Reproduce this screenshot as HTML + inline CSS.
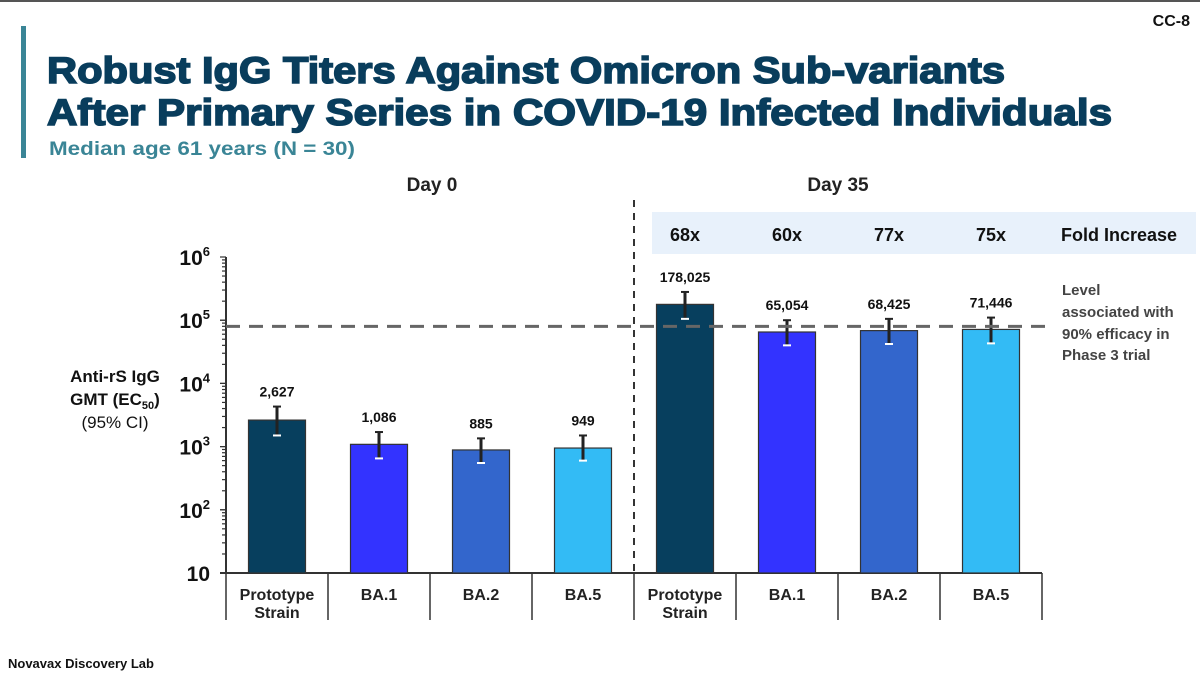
<!DOCTYPE html>
<html><head><meta charset="utf-8"><style>
body{margin:0;background:#fff;}
svg{display:block;font-family:"Liberation Sans",sans-serif;}
</style></head><body>
<svg id="c" width="1200" height="675" viewBox="0 0 1200 675">
<rect x="0" y="0" width="1200" height="2" fill="#555"/>
<text x="1190" y="26" text-anchor="end" font-size="16" font-weight="bold" fill="#111">CC-8</text>
<rect x="21" y="26" width="5" height="132" fill="#3a8596"/>
<text x="47" y="83" font-size="37" font-weight="bold" fill="#093d5c" stroke="#093d5c" stroke-width="1.6" textLength="958" lengthAdjust="spacingAndGlyphs">Robust IgG Titers Against Omicron Sub-variants</text>
<text x="47" y="125" font-size="37" font-weight="bold" fill="#093d5c" stroke="#093d5c" stroke-width="1.6" textLength="1065" lengthAdjust="spacingAndGlyphs">After Primary Series in COVID-19 Infected Individuals</text>
<text x="49" y="155" font-size="19" font-weight="bold" fill="#3a8596" textLength="306" lengthAdjust="spacingAndGlyphs">Median age 61 years (N = 30)</text>
<text x="432" y="191" text-anchor="middle" font-size="19" font-weight="bold" fill="#222">Day 0</text>
<text x="838" y="191" text-anchor="middle" font-size="19" font-weight="bold" fill="#222">Day 35</text>
<rect x="652" y="212" width="544" height="42" fill="#e8f1fb"/>
<text x="1119" y="241" text-anchor="middle" font-size="18" font-weight="bold" fill="#111">Fold Increase</text>
<text x="115" y="382" text-anchor="middle" font-size="17" font-weight="bold" fill="#111">Anti-rS IgG</text>
<text x="115" y="405" text-anchor="middle" font-size="17" font-weight="bold" fill="#111">GMT (EC<tspan font-size="11" dy="4">50</tspan><tspan dy="-4">)</tspan></text>
<text x="115" y="428" text-anchor="middle" font-size="17" fill="#111">(95% CI)</text>
<text x="1062" y="295" font-size="15" font-weight="bold" fill="#444">Level</text>
<text x="1062" y="317" font-size="15" font-weight="bold" fill="#444">associated with</text>
<text x="1062" y="339" font-size="15" font-weight="bold" fill="#444">90% efficacy in</text>
<text x="1062" y="360" font-size="15" font-weight="bold" fill="#444">Phase 3 trial</text>
<text x="8" y="668" font-size="13" font-weight="bold" fill="#111">Novavax Discovery Lab</text>
<g id="plot"></g>
</svg>
<script>
const categories=["Prototype Strain","BA.1","BA.2","BA.5","Prototype Strain","BA.1","BA.2","BA.5"];
const gmt=[2627,1086,885,949,178025,65054,68425,71446];
const ciUpper=[4300,1700,1350,1500,280000,100000,105000,110000];
const ciLower=[1500,650,550,600,105000,40000,42000,43000];
const valueLabels=["2,627","1,086","885","949","178,025","65,054","68,425","71,446"];
const foldLabels=["68x","60x","77x","75x"];
const yTicks=[10,100,1000,10000,100000,1000000];
const yTickLabels=[["10",""],["10","2"],["10","3"],["10","4"],["10","5"],["10","6"]];
const referenceLevel=80000;
const colors=["#073f5e","#3333ff","#3366cc","#33bbf5","#073f5e","#3333ff","#3366cc","#33bbf5"];

const NS="http://www.w3.org/2000/svg";
const g=document.getElementById('plot');
const X0=226,SLOT=102,Y10=573,DEC=63.2;
function y(v){return Y10-(Math.log10(v)-1)*DEC;}
function xc(i){return X0+SLOT*i+SLOT/2;}
function mk(t,a,p){const e=document.createElementNS(NS,t);for(const k in a)e.setAttribute(k,a[k]);(p||g).appendChild(e);return e;}

for(let d=1;d<6;d++){for(let m=1;m<=10;m++){const v=Math.pow(10,d)*m;
const t=mk('line',{x1:X0-(m===1||m===10?6:4),x2:X0,y1:y(v),y2:y(v),stroke:'#333','stroke-width':1.2});

}}
yTicks.forEach((v,i)=>{
 const t=mk('text',{x:210,y:y(v)+8,'text-anchor':'end','font-size':21,'font-weight':'bold',fill:'#111'});
 
 
 t.textContent=yTickLabels[i][0];
 if(yTickLabels[i][1]){const s=mk('tspan',{'font-size':13,dy:-9},t);s.textContent=yTickLabels[i][1];}
});
const ya=mk('line',{x1:X0,x2:X0,y1:y(1000000),y2:Y10,stroke:'#333','stroke-width':2});


const xa=mk('line',{x1:X0-6,x2:X0+SLOT*8,y1:Y10,y2:Y10,stroke:'#333','stroke-width':2});


for(let i=0;i<=8;i++){
 const l=mk('line',{x1:X0+SLOT*i,x2:X0+SLOT*i,y1:Y10,y2:620,stroke:'#333','stroke-width':1.5});
 
 
}
const sep=mk('line',{x1:634,x2:634,y1:200,y2:573,stroke:'#333','stroke-width':2,'stroke-dasharray':'7,6'});



categories.forEach((c,i)=>{
 const w=57,bx=xc(i)-w/2;
 const b=mk('rect',{x:bx,y:y(gmt[i]),width:w,height:Y10-y(gmt[i]),fill:colors[i],stroke:'#333','stroke-width':1.2});
 
 
 const e=mk('line',{x1:xc(i),x2:xc(i),y1:y(ciUpper[i]),y2:y(ciLower[i]),stroke:'#222','stroke-width':3});
 
 
 const cu=mk('line',{x1:xc(i)-4,x2:xc(i)+4,y1:y(ciUpper[i]),y2:y(ciUpper[i]),stroke:'#222','stroke-width':2});
 
 
 const cl=mk('line',{x1:xc(i)-4,x2:xc(i)+4,y1:y(ciLower[i]),y2:y(ciLower[i]),stroke:'#fff','stroke-width':2});
 
 
 const vl=mk('text',{x:xc(i),y:y(ciUpper[i])-10,'text-anchor':'middle','font-size':14,'font-weight':'bold',fill:'#111'});
 
 
 vl.textContent=valueLabels[i];
 const parts=c==="Prototype Strain"?["Prototype","Strain"]:[c];
 parts.forEach((p,k)=>{
  const t=mk('text',{x:xc(i),y:600+k*18,'text-anchor':'middle','font-size':16,'font-weight':'bold',fill:'#222'});
  
  
  t.textContent=p;
 });
});
foldLabels.forEach((f,i)=>{
 const t=mk('text',{x:xc(i+4),y:241,'text-anchor':'middle','font-size':18,'font-weight':'bold',fill:'#111'});
 
 
 t.textContent=f;
});
const ref=mk('line',{x1:X0,x2:1047,y1:y(referenceLevel),y2:y(referenceLevel),stroke:'#666','stroke-width':3,'stroke-dasharray':'14,9'});


</script>
</body></html>
